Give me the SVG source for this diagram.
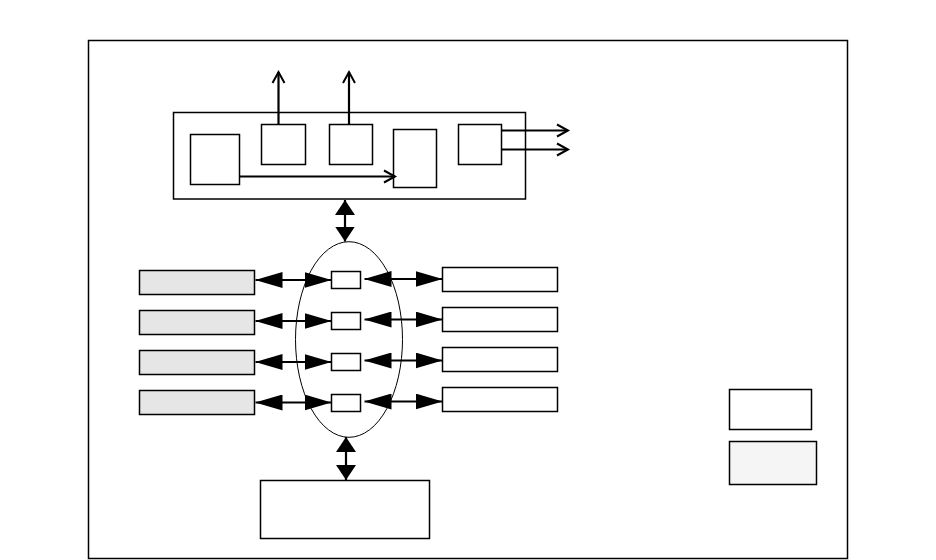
<svg xmlns="http://www.w3.org/2000/svg" width="936" height="560" viewBox="0 0 936 560">
<defs>
<style>
.box{fill:#fff;stroke:#000;stroke-width:1.5}
.gray{fill:#e6e6e6;stroke:#000;stroke-width:1.5}
.light{fill:#f5f5f5;stroke:#000;stroke-width:1.5}
.con{fill:none;stroke:#000;stroke-width:2.2}
.open{marker-end:url(#open)}
.dh{marker-start:url(#fh);marker-end:url(#fh)}
.dv{marker-start:url(#fv);marker-end:url(#fv)}
</style>
<marker id="open" markerUnits="userSpaceOnUse" markerWidth="16" markerHeight="16" refX="12" refY="7" orient="auto" overflow="visible">
<path d="M1,1 L12,7 L1,13" fill="none" stroke="#000" stroke-width="2"/>
</marker>
<marker id="fh" markerUnits="userSpaceOnUse" markerWidth="27" markerHeight="16" refX="27" refY="8" orient="auto-start-reverse">
<path d="M0,0 L27,8 L0,16 z" fill="#000"/>
</marker>
<marker id="fv" markerUnits="userSpaceOnUse" markerWidth="15" markerHeight="20" refX="15" refY="10" orient="auto-start-reverse">
<path d="M0,0 L15,10 L0,20 z" fill="#000"/>
</marker>
</defs>
<rect width="936" height="560" fill="#fff"/>
<rect id="frame" x="88.5" y="40.5" width="759" height="518" fill="none" stroke="#000" stroke-width="1.5"/>

<g id="top-block"><rect class="box" x="173.5" y="112.5" width="352" height="86.5"/></g>
<g id="box-a"><rect class="box" x="190.5" y="134.5" width="49" height="50"/></g>
<g id="box-b"><rect class="box" x="261.5" y="124.5" width="44" height="40"/></g>
<g id="box-c"><rect class="box" x="329.5" y="124.5" width="43" height="40"/></g>
<g id="box-d"><rect class="box" x="393.5" y="129.5" width="43" height="58"/></g>
<g id="box-e"><rect class="box" x="458.5" y="124.5" width="43" height="40"/></g>

<g id="bus"><ellipse cx="349" cy="339.5" rx="53.5" ry="97.8" fill="none" stroke="#000" stroke-width="1"/></g>

<g id="port-1"><rect class="box" x="331.5" y="271.5" width="29" height="17"/></g>
<g id="port-2"><rect class="box" x="331.5" y="312.5" width="29" height="17"/></g>
<g id="port-3"><rect class="box" x="331.5" y="353.5" width="29" height="17"/></g>
<g id="port-4"><rect class="box" x="331.5" y="394.5" width="29" height="17"/></g>

<g id="left-1"><rect class="gray" x="139.5" y="270.5" width="115" height="24"/></g>
<g id="left-2"><rect class="gray" x="139.5" y="310.5" width="115" height="24"/></g>
<g id="left-3"><rect class="gray" x="139.5" y="350.5" width="115" height="24"/></g>
<g id="left-4"><rect class="gray" x="139.5" y="390.5" width="115" height="24"/></g>

<g id="right-1"><rect class="box" x="442.5" y="267.5" width="115" height="24"/></g>
<g id="right-2"><rect class="box" x="442.5" y="307.5" width="115" height="24"/></g>
<g id="right-3"><rect class="box" x="442.5" y="347.5" width="115" height="24"/></g>
<g id="right-4"><rect class="box" x="442.5" y="387.5" width="115" height="24"/></g>

<g id="bottom-box"><rect class="box" x="260.5" y="480.5" width="169" height="58"/></g>

<g id="legend-1"><rect class="box" x="729.5" y="389.5" width="82" height="40"/></g>
<g id="legend-2"><rect class="light" x="729.5" y="441.5" width="87" height="43"/></g>

<g id="connectors">
<line class="con open" x1="278.5" y1="124" x2="278.5" y2="72"/>
<line class="con open" x1="349" y1="124" x2="349" y2="72"/>
<line class="con open" x1="501.5" y1="130.5" x2="568" y2="130.5"/>
<line class="con open" x1="501.5" y1="149.5" x2="568" y2="149.5"/>
<line class="con open" x1="239.5" y1="176.5" x2="395" y2="176.5"/>
<line class="con dv" x1="345" y1="200" x2="345" y2="241.5"/>
<line class="con dv" x1="346" y1="437" x2="346" y2="480"/>
<line class="con dh" x1="255.5" y1="280" x2="331.5" y2="280"/>
<line class="con dh" x1="255.5" y1="321" x2="331.5" y2="321"/>
<line class="con dh" x1="255.5" y1="362" x2="331.5" y2="362"/>
<line class="con dh" x1="255.5" y1="402.5" x2="331.5" y2="402.5"/>
<line class="con dh" x1="364.5" y1="279" x2="442.5" y2="279"/>
<line class="con dh" x1="364.5" y1="319.5" x2="442.5" y2="319.5"/>
<line class="con dh" x1="364.5" y1="360.5" x2="442.5" y2="360.5"/>
<line class="con dh" x1="364.5" y1="401.5" x2="442.5" y2="401.5"/>
</g>
</svg>
